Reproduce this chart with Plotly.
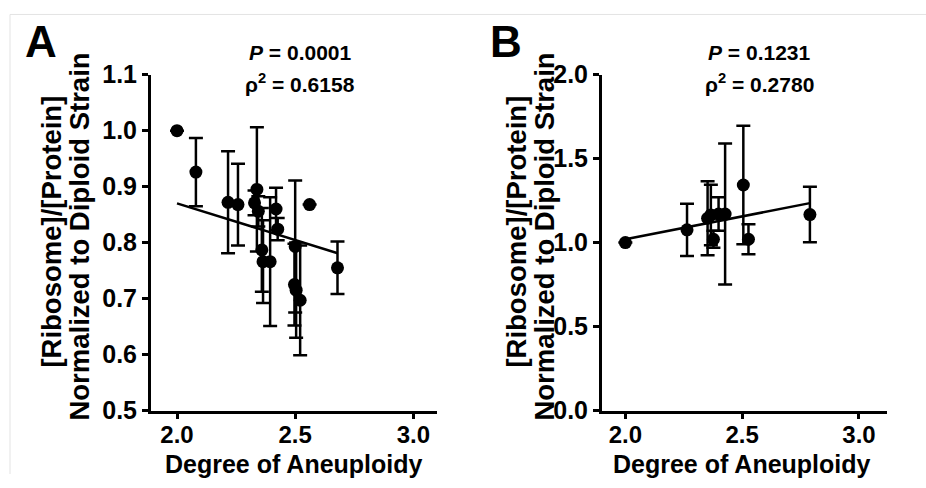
import plotly.graph_objects as go

# ---------------- data ----------------
# Panel A
a_x = [2.00, 2.08, 2.216, 2.258, 2.338, 2.328, 2.344, 2.359, 2.364, 2.394,
       2.419, 2.426, 2.500, 2.497, 2.504, 2.521, 2.561, 2.679]
a_y = [1.000, 0.926, 0.872, 0.868, 0.895, 0.871, 0.856, 0.787, 0.766, 0.766,
       0.860, 0.824, 0.793, 0.725, 0.715, 0.697, 0.868, 0.755]
a_err = [None, 0.061, 0.091, 0.073, 0.111, 0.022, 0.027, 0.075, 0.074, 0.115,
         0.038, 0.020, 0.118, 0.073, 0.085, 0.098, None, 0.047]
a_fit_x = [2.00, 2.68]
a_fit_y = [0.870, 0.781]
a_stats = ["<i>P</i> = 0.0001", "ρ<sup>2</sup> = 0.6158"]

# Panel B
b_x = [2.00, 2.264, 2.352, 2.366, 2.377, 2.399, 2.427, 2.505, 2.527, 2.790]
b_y = [1.000, 1.076, 1.145, 1.165, 1.020, 1.170, 1.170, 1.343, 1.020, 1.167]
b_err = [None, 0.155, 0.220, 0.180, 0.050, 0.100, 0.420, 0.353, 0.090, 0.165]
b_fit_x = [2.00, 2.79]
b_fit_y = [1.020, 1.235]
b_stats = ["<i>P</i> = 0.1231", "ρ<sup>2</sup> = 0.2780"]

x_ticks = [2.0, 2.5, 3.0]
a_y_ticks = [0.5, 0.6, 0.7, 0.8, 0.9, 1.0, 1.1]
b_y_ticks = [0.0, 0.5, 1.0, 1.5, 2.0]
x_title = "Degree of Aneuploidy"
y_title_lines = ["[Ribosome]/[Protein]", "Normalized to Diploid Strain"]

# ---------------- layout helpers ----------------
W, H = 926, 488
FONT = "Liberation Sans, Arial, sans-serif"


def px(x):
    return x / W


def ty(t):
    # target picture row -> layout row (compensates observed vertical fit)
    return (t - 14.3) / 0.943


def py(t):
    return 1 - ty(t) / H


fig = go.Figure()

for xs, ys, es, fx, fy, xa, ya in [
    (a_x, a_y, a_err, a_fit_x, a_fit_y, "x", "y"),
    (b_x, b_y, b_err, b_fit_x, b_fit_y, "x2", "y2"),
]:
    fig.add_trace(go.Scatter(x=fx, y=fy, mode="lines", xaxis=xa, yaxis=ya,
                             line=dict(color="black", width=2.5),
                             showlegend=False, hoverinfo="skip"))
    fig.add_trace(go.Scatter(x=xs, y=ys, mode="markers", xaxis=xa, yaxis=ya,
                             marker=dict(color="black", size=13),
                             error_y=dict(type="data", array=es, color="black",
                                          thickness=2.5, width=7),
                             showlegend=False))

axis_common = dict(showline=True, linecolor="black", linewidth=3,
                   ticks="outside", tickwidth=3, tickcolor="black",
                   showgrid=False, zeroline=False)
yfont = dict(family=FONT, size=25, color="black", weight="bold")
xfont = dict(family=FONT, size=24, color="black", weight="bold")


def tick_text(vals):
    return [f"<b>{v:.1f}</b>" for v in vals]


ytop, ybot = 75, 411
fig.update_layout(
    width=W, height=H,
    margin=dict(l=0, r=0, t=0, b=0),
    paper_bgcolor="white", plot_bgcolor="white",
    xaxis=dict(domain=[px(151), px(437)], range=[1.89, 3.10], anchor="y", ticklen=5,
               ticklabelstandoff=-4, tickfont=xfont,
               tickvals=x_ticks, ticktext=tick_text(x_ticks), **axis_common),
    yaxis=dict(domain=[py(ybot), py(ytop)], range=[0.5, 1.1], anchor="x", ticklen=6,
               tickfont=yfont,
               tickvals=a_y_ticks, ticktext=tick_text(a_y_ticks), **axis_common),
    xaxis2=dict(domain=[px(602), px(887)], range=[1.90, 3.12], anchor="y2", ticklen=5,
                ticklabelstandoff=-4, tickfont=xfont,
                tickvals=x_ticks, ticktext=tick_text(x_ticks), **axis_common),
    yaxis2=dict(domain=[py(ybot), py(ytop)], range=[0.0, 2.0], anchor="x2", ticklen=6,
                tickfont=yfont,
                tickvals=b_y_ticks, ticktext=tick_text(b_y_ticks), **axis_common),
)

ann = []
bold = dict(family=FONT, color="black", weight="bold")


def add_text(x, y, text, size, angle=0):
    ann.append(dict(x=px(x), y=py(y), xref="paper", yref="paper",
                    text=f"<b>{text}</b>", textangle=angle, showarrow=False,
                    xanchor="center", yanchor="middle",
                    font=dict(size=size, **bold)))


for off, letter, stats, xmid in [(0, "A", a_stats, 294), (465, "B", b_stats, 742)]:
    add_text(41 + off, 42, letter, 44)
    add_text(52 + off, 232, y_title_lines[0], 27.5, -90)
    add_text(80 + off, 237, y_title_lines[1], 27.5, -90)
    add_text(xmid, 464, x_title, 25)
    add_text(300 + off * 0.9871, 53, stats[0], 21)
    add_text(300 + off * 0.9871, 83, stats[1], 21)
fig.update_layout(annotations=ann)

# thin light frame
fig.add_shape(type="line", xref="paper", yref="paper", x0=px(10), x1=1, y0=0.999, y1=0.999,
              line=dict(color="#e3e3e3", width=1))
fig.add_shape(type="line", xref="paper", yref="paper", x0=px(10), x1=px(10), y0=0.999, y1=0,
              line=dict(color="#e3e3e3", width=1))

fig.write_html("out.html")
